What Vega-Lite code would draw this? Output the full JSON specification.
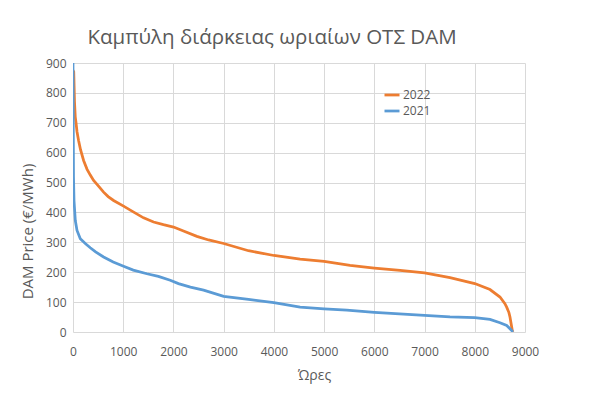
{
  "$schema": "https://vega.github.io/schema/vega-lite/v6.json",
  "width": 452,
  "height": 269,
  "autosize": {"type": "none"},
  "padding": {"left": 73, "top": 63, "right": 75, "bottom": 63},
  "background": "white",
  "title": {
    "text": "Καμπύλη διάρκειας ωριαίων ΟΤΣ DAM",
    "font": "Open Sans",
    "fontSize": 20.5,
    "fontWeight": "normal",
    "color": "#595959",
    "anchor": "middle",
    "frame": "group",
    "dx": -27,
    "offset": 9
  },
  "data": {
    "values": [
      {"h": 0, "p": 875, "year": "2022"},
      {"h": 15, "p": 870, "year": "2022"},
      {"h": 30, "p": 770, "year": "2022"},
      {"h": 45, "p": 720, "year": "2022"},
      {"h": 60, "p": 700, "year": "2022"},
      {"h": 80, "p": 670, "year": "2022"},
      {"h": 112, "p": 640, "year": "2022"},
      {"h": 150, "p": 610, "year": "2022"},
      {"h": 211, "p": 574, "year": "2022"},
      {"h": 278, "p": 545, "year": "2022"},
      {"h": 344, "p": 525, "year": "2022"},
      {"h": 410, "p": 507, "year": "2022"},
      {"h": 500, "p": 490, "year": "2022"},
      {"h": 609, "p": 468, "year": "2022"},
      {"h": 700, "p": 453, "year": "2022"},
      {"h": 808, "p": 440, "year": "2022"},
      {"h": 1007, "p": 421, "year": "2022"},
      {"h": 1200, "p": 402, "year": "2022"},
      {"h": 1405, "p": 382, "year": "2022"},
      {"h": 1604, "p": 368, "year": "2022"},
      {"h": 1800, "p": 359, "year": "2022"},
      {"h": 2002, "p": 351, "year": "2022"},
      {"h": 2200, "p": 338, "year": "2022"},
      {"h": 2467, "p": 320, "year": "2022"},
      {"h": 2700, "p": 308, "year": "2022"},
      {"h": 3000, "p": 296, "year": "2022"},
      {"h": 3494, "p": 272, "year": "2022"},
      {"h": 4000, "p": 256, "year": "2022"},
      {"h": 4522, "p": 244, "year": "2022"},
      {"h": 5000, "p": 236, "year": "2022"},
      {"h": 5517, "p": 223, "year": "2022"},
      {"h": 6000, "p": 214, "year": "2022"},
      {"h": 6512, "p": 206, "year": "2022"},
      {"h": 7000, "p": 198, "year": "2022"},
      {"h": 7506, "p": 182, "year": "2022"},
      {"h": 8000, "p": 162, "year": "2022"},
      {"h": 8303, "p": 142, "year": "2022"},
      {"h": 8502, "p": 117, "year": "2022"},
      {"h": 8600, "p": 95, "year": "2022"},
      {"h": 8635, "p": 83, "year": "2022"},
      {"h": 8680, "p": 65, "year": "2022"},
      {"h": 8701, "p": 50, "year": "2022"},
      {"h": 8747, "p": 5, "year": "2022"},
      {"h": 8759, "p": 0, "year": "2022"},
      {"h": 0, "p": 900, "year": "2021"},
      {"h": 5, "p": 700, "year": "2021"},
      {"h": 10, "p": 520, "year": "2021"},
      {"h": 20, "p": 440, "year": "2021"},
      {"h": 46, "p": 373, "year": "2021"},
      {"h": 80, "p": 340, "year": "2021"},
      {"h": 145, "p": 312, "year": "2021"},
      {"h": 250, "p": 295, "year": "2021"},
      {"h": 344, "p": 282, "year": "2021"},
      {"h": 450, "p": 268, "year": "2021"},
      {"h": 609, "p": 251, "year": "2021"},
      {"h": 800, "p": 234, "year": "2021"},
      {"h": 1007, "p": 220, "year": "2021"},
      {"h": 1200, "p": 207, "year": "2021"},
      {"h": 1472, "p": 195, "year": "2021"},
      {"h": 1700, "p": 186, "year": "2021"},
      {"h": 1936, "p": 173, "year": "2021"},
      {"h": 2100, "p": 162, "year": "2021"},
      {"h": 2338, "p": 150, "year": "2021"},
      {"h": 2600, "p": 140, "year": "2021"},
      {"h": 3000, "p": 119, "year": "2021"},
      {"h": 3494, "p": 109, "year": "2021"},
      {"h": 4000, "p": 98, "year": "2021"},
      {"h": 4522, "p": 83, "year": "2021"},
      {"h": 5000, "p": 77, "year": "2021"},
      {"h": 5451, "p": 73, "year": "2021"},
      {"h": 6000, "p": 66, "year": "2021"},
      {"h": 7000, "p": 56, "year": "2021"},
      {"h": 7506, "p": 51, "year": "2021"},
      {"h": 8000, "p": 48, "year": "2021"},
      {"h": 8303, "p": 42, "year": "2021"},
      {"h": 8502, "p": 31, "year": "2021"},
      {"h": 8635, "p": 22, "year": "2021"},
      {"h": 8735, "p": 5, "year": "2021"},
      {"h": 8759, "p": 0, "year": "2021"}
    ]
  },
  "mark": {"type": "line", "strokeWidth": 2.75, "clip": true},
  "encoding": {
    "x": {
      "field": "h",
      "type": "quantitative",
      "scale": {"domain": [0, 9000], "nice": false},
      "axis": {
        "values": [0, 1000, 2000, 3000, 4000, 5000, 6000, 7000, 8000, 9000],
        "format": "d",
        "title": "Ώρες",
        "titleX": 241,
        "titleY": 43,
        "titleBaseline": "middle",
        "titleAlign": "center",
        "labelPadding": 14,
        "labelFlush": false
      }
    },
    "y": {
      "field": "p",
      "type": "quantitative",
      "scale": {"domain": [0, 900], "nice": false},
      "axis": {
        "values": [0, 100, 200, 300, 400, 500, 600, 700, 800, 900],
        "format": "d",
        "title": "DAM Price (€/MWh)",
        "titleX": -46,
        "titleY": 168,
        "titleAngle": -90,
        "titleBaseline": "middle",
        "titleAlign": "center",
        "titleFontSize": 15,
        "labelPadding": 7,
        "labelFlush": false
      }
    },
    "color": {
      "field": "year",
      "type": "nominal",
      "scale": {"domain": ["2022", "2021"], "range": ["#ED7D31", "#5B9BD5"]},
      "legend": {
        "title": null,
        "orient": "none",
        "legendX": 310,
        "legendY": 23,
        "symbolType": "stroke",
        "symbolSize": 225,
        "symbolStrokeWidth": 2.75,
        "labelOffset": 2,
        "rowPadding": 1,
        "labelFont": "Open Sans",
        "labelFontSize": 12,
        "labelColor": "#595959"
      }
    }
  },
  "config": {
    "view": {"stroke": null},
    "axis": {
      "labelFont": "Open Sans",
      "labelFontSize": 12,
      "labelColor": "#595959",
      "titleFont": "Open Sans",
      "titleFontSize": 14,
      "titleFontWeight": "normal",
      "titleColor": "#595959",
      "grid": true,
      "gridColor": "#D9D9D9",
      "gridWidth": 1,
      "ticks": false,
      "domain": false
    }
  }
}
